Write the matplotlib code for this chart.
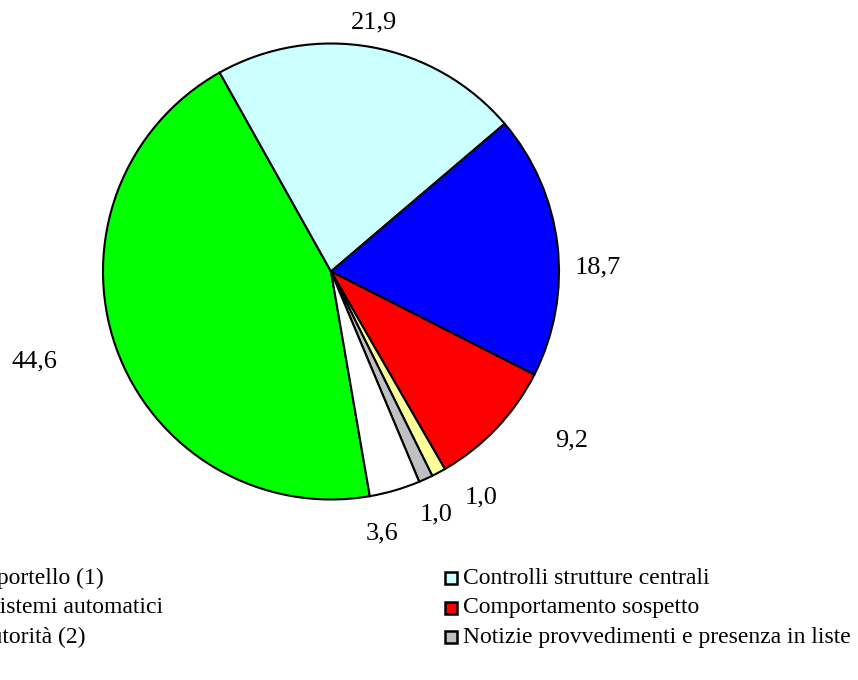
import matplotlib.pyplot as plt
from matplotlib.patches import Rectangle
import numpy as np

# Origine delle segnalazioni (valori percentuali)
categorie = ['Operatività allo sportello (1)', 'Controlli strutture centrali',
             'Segnalazioni da sistemi automatici', 'Comportamento sospetto',
             'Richieste delle autorità (2)', 'Notizie provvedimenti e presenza in liste',
             'Altro']
valori = [44.6, 21.9, 18.7, 9.2, 1.0, 1.0, 3.6]
etichette = ['44,6', '21,9', '18,7', '9,2', '1,0', '1,0', '3,6']
colori = ['#00FF00', '#CCFFFF', '#0000FF', '#FF0000', '#FFFF99', '#C0C0C0', '#FFFFFF']

# posizione delle etichette: angolo (gradi) e distanza dal centro (in raggi)
lab_ang = [196.8, 80.2, 0.8, -35.0, -56.5, -66.5, -78.9]
lab_dist = [1.36, 1.11, 1.17, 1.29, 1.19, 1.16, 1.17]

W, H = 858, 680
R = 228.0          # raggio in pixel
cx, cy = 331, 271.5

plt.rcParams['font.family'] = ['Liberation Serif', 'DejaVu Serif']

fig = plt.figure(figsize=(W / 100, H / 100), dpi=100)
ax = fig.add_axes([0, 0, 1, 1])


def px(x, y):
    return (x - cx) / R, (cy - y) / R


ax.pie(valori, colors=colori, radius=1, center=(0, 0), startangle=279.8,
       counterclock=False, frame=True,
       wedgeprops=dict(edgecolor='black', linewidth=1.5))
ax.set_xlim(-cx / R, (W - cx) / R)
ax.set_ylim(-(H - cy) / R, cy / R)
ax.set_aspect('auto')
ax.axis('off')

for lab, a, d in zip(etichette, lab_ang, lab_dist):
    t = np.deg2rad(a)
    ax.text(d * np.cos(t), d * np.sin(t), lab, fontsize=19,
            ha='center', va='center')

# legenda su due colonne, la prima parzialmente fuori dal bordo
col_x = [445 - 629, 445]
row_y = [578, 608, 637, 666]
box = 12
for i, (nome, col) in enumerate(zip(categorie, colori)):
    c = i % 2
    r = i // 2
    x0, y0 = px(col_x[c], row_y[r] + box / 2)
    ax.add_patch(Rectangle((x0, y0), box / R, box / R, facecolor=col,
                           edgecolor='black', linewidth=1.8, clip_on=False))
    tx, ty = px(col_x[c] + 18, row_y[r])
    ax.text(tx, ty, nome, fontsize=17, ha='left', va='center')

fig.savefig('out.png', dpi=100)
